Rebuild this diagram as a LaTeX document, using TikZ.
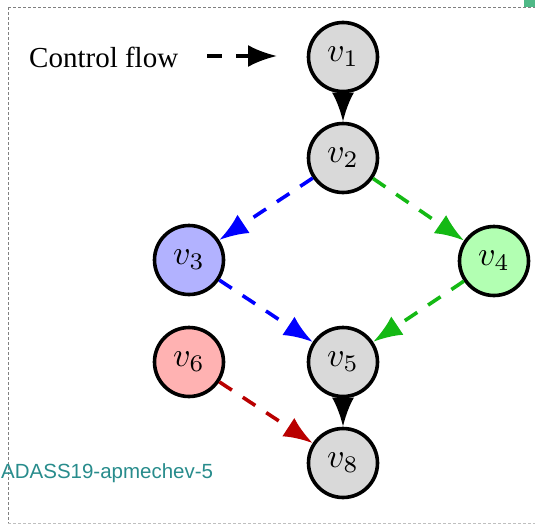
\documentclass[tikz,border=0pt]{standalone}
\usepackage{graphicx}
\usepackage{fontspec}
\setmainfont{Liberation Serif}
\newfontfamily\labelsans{Liberation Sans}
\usetikzlibrary{arrows.meta}
\definecolor{teallabel}{RGB}{40,140,140}
\definecolor{markgreen}{RGB}{80,185,135}
\definecolor{cfgreen}{RGB}{20,185,20}
\definecolor{cfred}{RGB}{185,0,0}
\newcommand{\vlab}[1]{\scalebox{3.4}{$v_{#1}$}}
\tikzset{
  vnode/.style={circle,draw=black,line width=3.6pt,minimum size=69pt,inner sep=0pt},
  flow/.style={line width=3.6pt,-{Latex[length=29pt,width=22pt]}},
  dflow/.style={flow,dash pattern=on 15pt off 13pt},
  frameline/.style={line width=0.7pt,dash pattern=on 3pt off 2pt}
}
\begin{document}
\begin{tikzpicture}[x=1pt,y=-1pt]
\useasboundingbox (0,0) rectangle (535,525);
% frame
\draw[frameline,gray] (8,7) -- (535,7);
\draw[frameline,gray] (8,7) -- (8,523);
\draw[frameline,gray!50] (8,523) -- (535,523);
\fill[markgreen] (524,0) rectangle (535,7);
% nodes
\node[vnode,fill=gray!30] (v1) at (343,57) {\vlab{1}};
\node[vnode,fill=gray!30] (v2) at (343,158) {\vlab{2}};
\node[vnode,fill=blue!30] (v3) at (189,260) {\vlab{3}};
\node[vnode,fill=green!30] (v4) at (494,261) {\vlab{4}};
\node[vnode,fill=gray!30] (v5) at (343,362) {\vlab{5}};
\node[vnode,fill=red!30] (v6) at (189,362) {\vlab{6}};
\node[vnode,fill=gray!30] (v8) at (343,463) {\vlab{8}};
% edges
\draw[flow] (v1) -- (v2);
\draw[flow] (v5) -- (v8);
\draw[dflow,blue] (v2) -- (v3);
\draw[dflow,cfgreen] (v2) -- (v4);
\draw[dflow,blue] (v3) -- (v5);
\draw[dflow,cfgreen] (v4) -- (v5);
\draw[dflow,cfred] (v6) -- (v8);
% legend
\node[anchor=base west,inner sep=0pt,font=\fontsize{29}{30}\selectfont] (lg) at (29,67) {Control flow};
\coordinate (ls) at (207,56);
\coordinate (le) at (277,56);
\draw[dflow,black,dash pattern=on 15pt off 14pt] (ls) -- (le);
% label
\node[anchor=base west,inner sep=0pt,text=teallabel,font=\labelsans\fontsize{20.5}{22}\selectfont] (lab) at (1,478) {ADASS19-apmechev-5};
\end{tikzpicture}
\end{document}
